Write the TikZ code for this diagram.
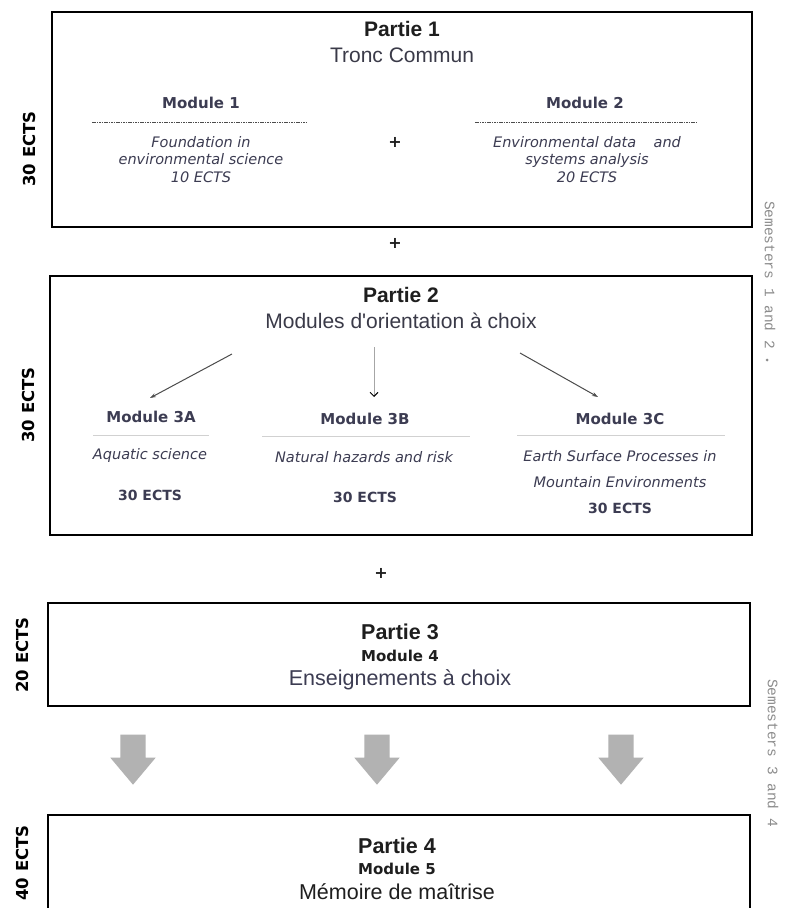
\documentclass[tikz,border=0pt]{standalone}
\usepackage{fontspec}
\setmainfont{Liberation Sans}
\newfontfamily\titlefont{Liberation Sans}
\newfontfamily\modfont{DejaVu Sans}
\newfontfamily\semfont{Liberation Mono}
\usetikzlibrary{shapes.arrows,arrows.meta}

\definecolor{titlecol}{HTML}{1E1E1E}
\definecolor{subcol}{HTML}{3A3A48}
\definecolor{modcol}{HTML}{3C3C52}
\definecolor{bigarrowcol}{HTML}{B2B2B2}

\tikzset{
  partbox/.style={draw=black,line width=1.6pt,inner sep=0pt},
  parttitle/.style={font=\titlefont\fontsize{21}{24}\selectfont\bfseries,text=titlecol,inner sep=0pt},
  partsub/.style={font=\titlefont\fontsize{21}{24}\selectfont,text=subcol,inner sep=0pt},
  modtitle/.style={font=\modfont\fontsize{15}{18}\selectfont\bfseries,text=modcol,inner sep=0pt},
  modtext/.style={font=\modfont\fontsize{14.5}{17.5}\selectfont\itshape,text=modcol,align=center,inner sep=0pt},
  modects/.style={font=\modfont\fontsize{14}{17}\selectfont\bfseries,text=modcol,inner sep=0pt},
  ectslabel/.style={font=\modfont\fontsize{16.5}{19}\selectfont\bfseries,text=black,rotate=90,inner sep=0pt},
  semlabel/.style={font=\semfont\fontsize{14.5}{17}\selectfont,text=black!45,rotate=-90,inner sep=0pt},
  plussign/.style={font=\modfont\fontsize{16}{18}\selectfont\bfseries,text=titlecol,inner sep=0pt},
  modrule/.style={black!70,line width=0.8pt,dash pattern=on 1.6pt off 0.8pt},
  faintrule/.style={black!18,line width=0.8pt},
  choicearrow/.style={black!70,line width=1pt,-{Stealth[length=6pt,width=4pt]}},
  straightarrow/.style={black!35,line width=1pt,-{Straight Barb[black,length=4pt,width=8pt]}},
  bigarrow/.style={single arrow,draw=none,fill=bigarrowcol,shape border rotate=270,
    inner xsep=12.5pt,inner ysep=0pt,text height=0pt,text depth=0pt,text width=0pt,
    minimum height=50pt,minimum width=45pt,single arrow head extend=10pt,
    single arrow tip angle=80},
}

\begin{document}
\begin{tikzpicture}[x=1pt,y=-1pt]
\useasboundingbox (0,0) rectangle (785,908);
\fill[white] (0,0) rectangle (785,908);

% boxes
\node[partbox,minimum width=700pt,minimum height=215pt] (box1) at (402,119.5) {};
\node[partbox,minimum width=702pt,minimum height=259pt] (box2) at (401,405.5) {};
\node[partbox,minimum width=702pt,minimum height=103pt] (box3) at (399,654.5) {};
\node[partbox,minimum width=702pt,minimum height=115pt] (box4) at (399,872.5) {};

% partie 1
\node[parttitle] (p1title) at (402,29) {Partie 1};
\node[partsub] (p1sub) at (402,55) {Tronc Commun};
\node[modtitle] (m1) at (201,102.5) {Module 1};
\draw[modrule] (92,122) -- (307,122);
\node[modtext] (m1text) at (201,159.5) {Foundation in\\environmental science\\10 ECTS};
\node[plussign] (plus1) at (395,142) {+};
\node[modtitle] (m2) at (585,102.5) {Module 2};
\draw[modrule] (475,122) -- (696,122);
\node[modtext] (m2text) at (587,159.5) {Environmental data\hspace{1.2em}and\\systems analysis\\20 ECTS};

\node[plussign] (plus2) at (395,243) {+};

% partie 2
\node[parttitle] (p2title) at (401,294.5) {Partie 2};
\node[partsub] (p2sub) at (401,320.5) {Modules d'orientation à choix};

\node[modtitle] (m3a) at (151,417) {Module 3A};
\draw[faintrule] (93,435) -- (209,435);
\node[modtext] (m3atext) at (150,455) {Aquatic science};
\node[modects] (m3aects) at (150,495) {30 ECTS};

\node[modtitle] (m3b) at (365,419) {Module 3B};
\draw[faintrule] (262,436) -- (470,436);
\node[modtext] (m3btext) at (364,457) {Natural hazards and risk};
\node[modects] (m3bects) at (365,497) {30 ECTS};

\node[modtitle] (m3c) at (620,419) {Module 3C};
\draw[faintrule] (517,435) -- (725,435);
\node[modtext,font=\modfont\fontsize{14.5}{26}\selectfont\itshape] (m3ctext) at (620,469) {Earth Surface Processes in\\Mountain Environments};
\node[modects] (m3cects) at (620,508) {30 ECTS};

% choice arrows
\coordinate (c3a) at (232,354);
\coordinate (c3b) at (374,347);
\coordinate (c3c) at (520,353);
\draw[choicearrow] (c3a) -- ([xshift=-1pt,yshift=13pt]m3a.north);
\draw[straightarrow] (c3b) -- ([xshift=9pt,yshift=16pt]m3b.north);
\draw[choicearrow] (c3c) -- ([xshift=-22pt,yshift=16pt]m3c.north);

\node[plussign] (plus3) at (381,573) {+};

% partie 3
\node[parttitle,font=\titlefont\fontsize{21.5}{24}\selectfont\bfseries] (p3title) at (400,632) {Partie 3};
\node[modtitle,text=titlecol] (m4) at (400,656) {Module 4};
\node[partsub,font=\titlefont\fontsize{21.5}{24}\selectfont,text=modcol] (p3sub) at (400,680) {Enseignements à choix};

% grey arrows
\foreach \ax/\nm in {133/ga1,377/ga2,621/ga3}
  \node[bigarrow,anchor=tip] (\nm) at (\ax,785) {};

% partie 4
\node[parttitle,font=\titlefont\fontsize{21.5}{24}\selectfont\bfseries] (p4title) at (397,846) {Partie 4};
\node[modtitle,text=titlecol] (m5) at (397,869) {Module 5};
\node[partsub,font=\titlefont\fontsize{21.5}{24}\selectfont,text=titlecol] (p4sub) at (397,892) {Mémoire de maîtrise};

% ECTS and semesters
\node[ectslabel] (ects1) at (29,149) {30 ECTS};
\node[ectslabel] (ects2) at (28,405) {30 ECTS};
\node[ectslabel] (ects3) at (22,655) {20 ECTS};
\node[ectslabel] (ects4) at (22,863) {40 ECTS};
\node[semlabel] (sem12) at (770,275) {Semesters 1 and 2};
\fill[black!45] (767,360) circle [radius=1.5];
\node[semlabel] (sem34) at (773,753) {Semesters 3 and 4};
\end{tikzpicture}
\end{document}
